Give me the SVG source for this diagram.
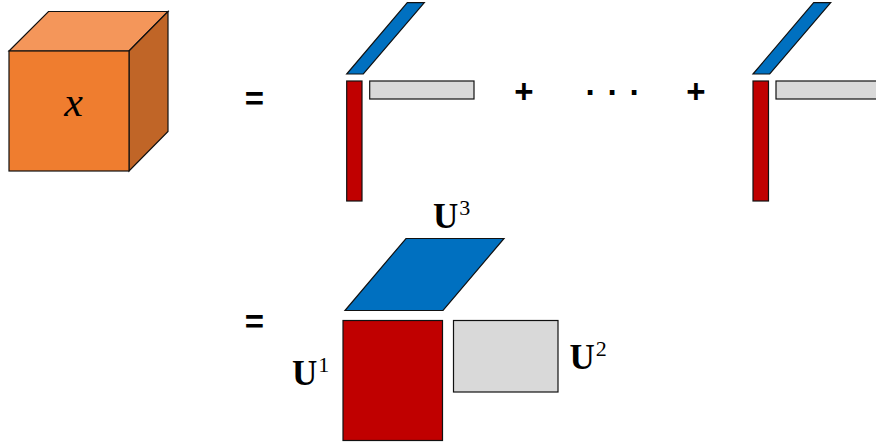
<svg xmlns="http://www.w3.org/2000/svg" width="876" height="444" viewBox="0 0 876 444">
<style>
.e{stroke:#111;stroke-width:1.2;stroke-linejoin:miter}
.b{fill:#0070c0}.r{fill:#c00000}.g{fill:#d9d9d9}
.op{font-family:"Liberation Sans",Arial,sans-serif;font-weight:bold;font-size:33px;fill:#000;text-anchor:middle}
.u{font-family:"Liberation Serif","Times New Roman",serif;font-weight:bold;font-size:35px;fill:#000}
.s{font-family:"Liberation Serif","Times New Roman",serif;font-size:22px;fill:#000}
</style>
<g id="cube">
<polygon class="e" fill="#f4965a" points="9,51 48.500,11.500 168,11.500 129,51"/>
<polygon class="e" fill="#c06527" points="129,51 168,11.500 168,131.500 129,171"/>
<rect class="e" fill="#ef7d2f" x="9" y="51" width="120" height="120"/>
<text x="73.500" y="115.500" text-anchor="middle" font-family="'Liberation Serif',serif" font-style="italic" font-size="42" fill="#000">x</text>
</g>
<g id="connectors"/>
<g id="equals-1"><text class="op" x="254.500" y="110">=</text></g>
<g id="term-1">
<polygon class="e b" points="346.700,74 407.300,2.700 424.300,2.700 363.300,74"/>
<rect class="e r" x="346.700" y="81" width="15.300" height="120"/>
<rect class="e g" x="369.700" y="81" width="104.300" height="18"/>
</g>
<g id="plus-1"><text class="op" x="524" y="103">+</text></g>
<g id="dots"><text class="op" x="591 613 635" y="104">···</text></g>
<g id="plus-2"><text class="op" x="696" y="103">+</text></g>
<g id="term-2">
<polygon class="e b" points="753,74 813.700,2.700 830.700,2.700 769.700,74"/>
<rect class="e r" x="753" y="81" width="15.500" height="120"/>
<rect class="e g" x="776" y="81" width="104" height="18"/>
</g>
<g id="equals-2"><text class="op" x="254.500" y="333">=</text></g>
<g id="u3">
<polygon class="e b" points="345,310.500 406,238.500 504,238.500 443,310.500"/>
<text x="433" y="228"><tspan class="u">U</tspan><tspan class="s" dx="1" dy="-13">3</tspan></text>
</g>
<g id="u1">
<rect class="e r" x="343" y="320.500" width="99.500" height="120"/>
<text x="292" y="385"><tspan class="u">U</tspan><tspan class="s" dx="1" dy="-13">1</tspan></text>
</g>
<g id="u2">
<rect class="e g" x="453.500" y="320.500" width="104.500" height="71.500"/>
<text x="569.500" y="369"><tspan class="u">U</tspan><tspan class="s" dx="1" dy="-13">2</tspan></text>
</g>
</svg>
